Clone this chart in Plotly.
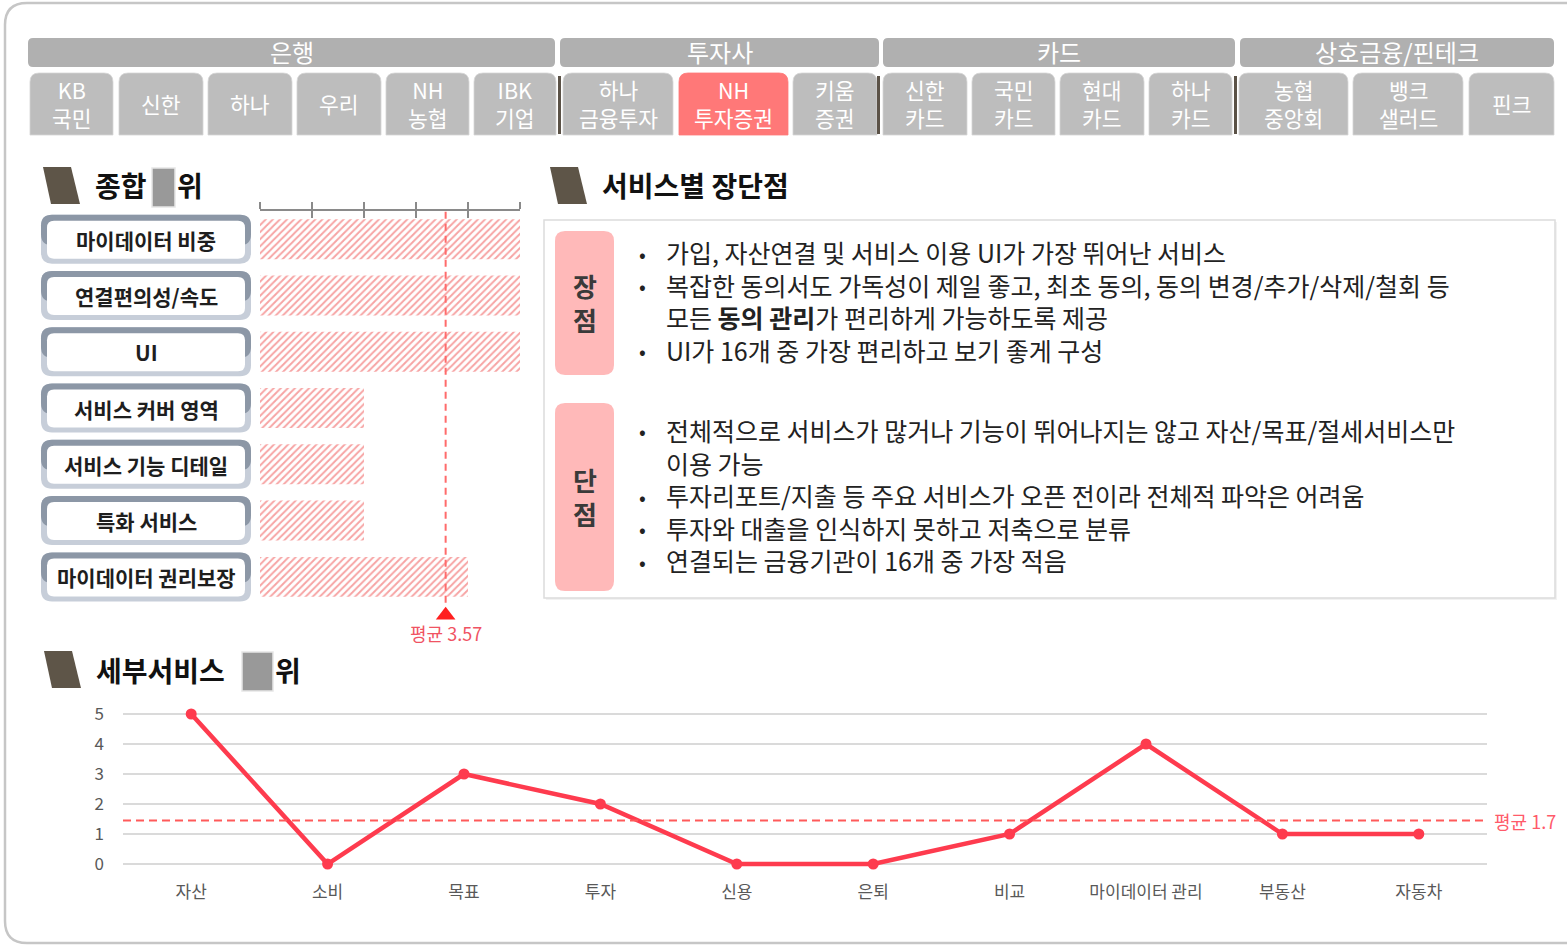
import plotly.graph_objects as go

W, H = 1567, 946
FONT = "Noto Sans CJK KR"

# ---------------- data ----------------
group_names = ["은행", "투자사", "카드", "상호금융/핀테크"]
tab_labels = ["KB<br>국민", "신한", "하나", "우리", "NH<br>농협", "IBK<br>기업",
              "하나<br>금융투자", "NH<br>투자증권", "키움<br>증권",
              "신한<br>카드", "국민<br>카드", "현대<br>카드", "하나<br>카드",
              "농협<br>중앙회", "뱅크<br>샐러드", "핀크"]
selected_tab = "NH<br>투자증권"

overall_categories = ["마이데이터 비중", "연결편의성/속도", "UI", "서비스 커버 영역",
                      "서비스 기능 디테일", "특화 서비스", "마이데이터 권리보장"]
overall_scores = [5, 5, 5, 2, 2, 2, 4]
overall_avg = 3.57

pros = ["가입, 자산연결 및 서비스 이용 UI가 가장 뛰어난 서비스",
        "복잡한 동의서도 가독성이 제일 좋고, 최초 동의, 동의 변경/추가/삭제/철회 등",
        "모든 <b>동의 관리</b>가 편리하게 가능하도록 제공",
        "UI가 16개 중 가장 편리하고 보기 좋게 구성"]
pros_bullets = [True, True, False, True]
cons = ["전체적으로 서비스가 많거나 기능이 뛰어나지는 않고 자산/목표/절세서비스만",
        "이용 가능",
        "투자리포트/지출 등 주요 서비스가 오픈 전이라 전체적 파악은 어려움",
        "투자와 대출을 인식하지 못하고 저축으로 분류",
        "연결되는 금융기관이 16개 중 가장 적음"]
cons_bullets = [True, False, True, True, True]

service_categories = ["자산", "소비", "목표", "투자", "신용", "은퇴", "비교",
                      "마이데이터 관리", "부동산", "자동차"]
service_scores = [5, 0, 3, 2, 0, 0, 1, 4, 1, 1]
service_avg_label = 1.7
service_avg_line = 1.45   # position at which the reference draws the dashed line

# ---------------- helpers (pixel -> paper) ----------------
def X(x):
    return x / W

def Y(y):
    return 1 - y / H

def P(x, y):
    return f"{X(x):.5f},{Y(y):.5f}"

def rrect(x0, y0, x1, y1, r, top_only=False):
    if top_only:
        return (f"M {P(x0, y1)} L {P(x0, y0 + r)} Q {P(x0, y0)} {P(x0 + r, y0)} "
                f"L {P(x1 - r, y0)} Q {P(x1, y0)} {P(x1, y0 + r)} L {P(x1, y1)} Z")
    return (f"M {P(x0 + r, y0)} L {P(x1 - r, y0)} Q {P(x1, y0)} {P(x1, y0 + r)} "
            f"L {P(x1, y1 - r)} Q {P(x1, y1)} {P(x1 - r, y1)} L {P(x0 + r, y1)} "
            f"Q {P(x0, y1)} {P(x0, y1 - r)} L {P(x0, y0 + r)} Q {P(x0, y0)} {P(x0 + r, y0)} Z")

shapes = []
annotations = []

def add_path(path, fill, line_color=None, line_width=0, layer="below"):
    shapes.append(dict(type="path", xref="paper", yref="paper", path=path,
                       fillcolor=fill, layer=layer,
                       line=dict(color=line_color or fill, width=line_width)))

def add_text(x, y, text, size, color="#222222", xanchor="center", yanchor="middle",
             align="center"):
    annotations.append(dict(x=X(x), y=Y(y), xref="paper", yref="paper", text=text,
                            showarrow=False, xanchor=xanchor, yanchor=yanchor, align=align,
                            borderpad=0,
                            font=dict(family=FONT, size=size, color=color)))

# ---------------- card outline ----------------
shapes.append(dict(type="path", xref="paper", yref="paper",
                   path=(f"M {P(1575, 3)} L {P(27, 3)} Q {P(5, 3)} {P(5, 25)} "
                         f"L {P(5, 921)} Q {P(5, 943)} {P(27, 943)} L {P(1575, 943)}"),
                   line=dict(color="#c6c6c6", width=2.5), layer="below"))

# ---------------- tab header ----------------
group_spans = [(28, 555), (560, 879), (883, 1235), (1240, 1554)]
for name, (a, b) in zip(group_names, group_spans):
    add_path(rrect(a, 38, b, 67, 5), "#b0b0b0")
    add_text((a + b) / 2, 52, name, 24, "#ffffff")

tab_spans = [(30, 113), (119, 203), (208, 292), (297, 381), (386, 469), (474, 556),
             (563, 673), (679, 788), (793, 877),
             (883, 967), (972, 1055), (1060, 1144), (1149, 1232),
             (1239, 1348), (1353, 1463), (1469, 1554)]
for lab, (a, b) in zip(tab_labels, tab_spans):
    col = "#ff7878" if lab == selected_tab else "#bdbdbd"
    add_path(rrect(a, 73, b, 135, 9, top_only=True), col,
             "#d6d6d6" if col == "#bdbdbd" else col, 0.8)
    add_text((a + b) / 2, 103, lab, 21.5, "#ffffff")

for sx in (559.5, 878.5, 1235.5):
    shapes.append(dict(type="line", xref="paper", yref="paper", x0=X(sx), x1=X(sx),
                       y0=Y(76), y1=Y(134), line=dict(color="#5b5247", width=3)))

# ---------------- section headers ----------------
def section_header(x, y_top, y_bot, title, redact=None, tail=None):
    add_path(f"M {P(x, y_top)} L {P(x + 28, y_top)} L {P(x + 37, y_bot)} L {P(x + 8, y_bot)} Z",
             "#5e5548")
    add_text(x + 51, (y_top + y_bot) / 2, f"<b>{title}</b>", 28, "#111111", xanchor="left")
    if redact:
        rx0, rx1 = redact
        shapes.append(dict(type="rect", xref="paper", yref="paper", x0=X(rx0), x1=X(rx1),
                           y0=Y(y_top + 1), y1=Y(y_bot + 3), fillcolor="#999999",
                           line=dict(color="#e6e6e6", width=1.5), layer="below"))
        add_text(rx1 + 1, (y_top + y_bot) / 2, f"<b>{tail}</b>", 28, "#111111", xanchor="left")

section_header(43, 167, 204, "종합", (152, 175), "위")
section_header(550, 167, 204, "서비스별 장단점")
section_header(44, 651, 688, "세부서비스", (242, 273), "위")

# ---------------- overall (bar) chart layout numbers ----------------
bar_dom_top = 211
step = 56.29
bar_range_bottom = 7.0
bar_dom_bot = bar_dom_top + (bar_range_bottom + 0.5) * step

for i, cat in enumerate(overall_categories):
    cy = bar_dom_top + (i + 0.5) * step
    y0, y1 = cy - 24.5, cy + 24.5
    add_path(rrect(41, y0, 251, y1, 11), "#c7ced9")
    add_path(rrect(41, y0, 251, cy + 6, 11), "#8c97a6")
    add_path(rrect(47, y0 + 6, 245, y1 - 5, 7), "#ffffff")
    add_text(146, cy + 0.5, f"<b>{cat}</b>", 21, "#1e1e1e")

# ---------------- pros / cons box ----------------
shapes.append(dict(type="rect", xref="paper", yref="paper", x0=X(546), x1=X(1557),
                   y0=Y(222), y1=Y(600), fillcolor="rgba(0,0,0,0.05)",
                   line=dict(width=0), layer="below"))
shapes.append(dict(type="rect", xref="paper", yref="paper", x0=X(544), x1=X(1555),
                   y0=Y(220), y1=Y(598), fillcolor="#ffffff",
                   line=dict(color="#dcdcdc", width=1.5), layer="below"))
add_path(rrect(555, 231, 614, 375, 10), "#ffb9b9")
add_text(585, 303, "<b>장<br>점</b>", 26, "#3a3a3a")
add_path(rrect(555, 403, 614, 591, 10), "#ffb9b9")
add_text(585, 497, "<b>단<br>점</b>", 26, "#3a3a3a")

TXT = 25
LINE = 1.3 * TXT

def bullet_block(lines, bullets, first_y):
    n = len(lines)
    center = first_y + (n - 1) * LINE / 2
    add_text(665, center, "<br>".join(lines), TXT, "#222222", xanchor="left", align="left")
    for k, b in enumerate(bullets):
        if b:
            add_text(642, first_y + k * LINE + 1, "•", 20, "#222222")

bullet_block(pros, pros_bullets, 252)
bullet_block(cons, cons_bullets, 430)

# ---------------- figure ----------------
fig = go.Figure()

fig.add_trace(go.Bar(
    x=overall_scores, y=list(range(len(overall_categories))), orientation="h",
    width=0.71, xaxis="x", yaxis="y", showlegend=False, hoverinfo="skip",
    marker=dict(color="#ffffff", line=dict(width=0),
                pattern=dict(shape="/", fgcolor="#f7a3a3", bgcolor="#ffffff",
                             size=5, solidity=0.38, fillmode="replace"))))

# average marker (triangle) below the bars
fig.add_trace(go.Scatter(
    x=[overall_avg], y=[6.68], mode="markers", xaxis="x", yaxis="y",
    marker=dict(symbol="triangle-up", size=17, color="#ff1f1f"),
    cliponaxis=False, showlegend=False, hoverinfo="skip"))

# invisible trace for the overlay tick axis
fig.add_trace(go.Scatter(x=[0], y=[0], mode="markers", xaxis="x3", yaxis="y",
                         marker=dict(opacity=0), showlegend=False, hoverinfo="skip"))

fig.add_trace(go.Scatter(
    x=service_categories, y=service_scores, mode="lines+markers",
    xaxis="x2", yaxis="y2", cliponaxis=False, showlegend=False,
    line=dict(color="#fe3b4e", width=4.5),
    marker=dict(size=11, color="#fe3b4e")))

shapes.append(dict(type="line", xref="x", yref="y", x0=overall_avg, x1=overall_avg,
                   y0=6.46, y1=-0.5, line=dict(color="#ff6b6b", width=2, dash="7px,5px")))
shapes.append(dict(type="line", xref="x2 domain", yref="y2", x0=0, x1=1,
                   y0=service_avg_line, y1=service_avg_line,
                   line=dict(color="#ff5a5a", width=2, dash="8px,5px")))

annotations.append(dict(x=overall_avg, xref="x", y=Y(633), yref="paper",
                        text=f"평균 {overall_avg:.2f}", showarrow=False,
                        xanchor="center", yanchor="middle",
                        font=dict(family=FONT, size=18, color="#f05363")))
annotations.append(dict(x=1.0, xref="x2 domain", xshift=5, y=service_avg_line, yref="y2",
                        text=f"평균 {service_avg_label}", showarrow=False,
                        xanchor="left", yanchor="middle",
                        font=dict(family=FONT, size=18, color="#ff5a6a")))

fig.update_layout(
    width=W, height=H,
    margin=dict(l=0, r=0, t=0, b=0),
    paper_bgcolor="#ffffff", plot_bgcolor="rgba(0,0,0,0)",
    font=dict(family=FONT),
    xaxis=dict(domain=[X(260), X(520)], range=[0, 5], anchor="y", side="top",
               tickvals=[0, 1, 2, 3, 4, 5], ticks="outside", ticklen=7, tickwidth=1.5,
               tickcolor="#8a8a8a", showline=True, linecolor="#8a8a8a", linewidth=1.5,
               showticklabels=False, showgrid=False, zeroline=False),
    xaxis3=dict(overlaying="x", range=[0, 5], anchor="y", side="top",
                tickvals=[0, 1, 2, 3, 4, 5], ticks="inside", ticklen=7, tickwidth=1.5,
                tickcolor="#8a8a8a", showline=False, showticklabels=False,
                showgrid=False, zeroline=False),
    yaxis=dict(domain=[Y(bar_dom_bot), Y(bar_dom_top)], range=[bar_range_bottom, -0.5],
               anchor="x", showticklabels=False, showgrid=False, zeroline=False,
               showline=False),
    xaxis2=dict(domain=[X(123), X(1487)], anchor="y2", type="category", range=[-0.5, 9.5],
                showgrid=False, showline=False, zeroline=False, ticks="",
                tickfont=dict(family=FONT, size=17, color="#595959")),
    yaxis2=dict(domain=[Y(880), Y(700)], anchor="x2", range=[-0.533, 5.467],
                tickvals=[0, 1, 2, 3, 4, 5], showgrid=True, gridcolor="#dadada", gridwidth=2,
                zeroline=False, showline=False, ticks="", ticklabelstandoff=18,
                tickfont=dict(family=FONT, size=17, color="#595959")),
    shapes=shapes,
    annotations=annotations,
)

fig.write_html("out.html", config={"displayModeBar": False},
               post_script="document.body.style.margin='0';")
